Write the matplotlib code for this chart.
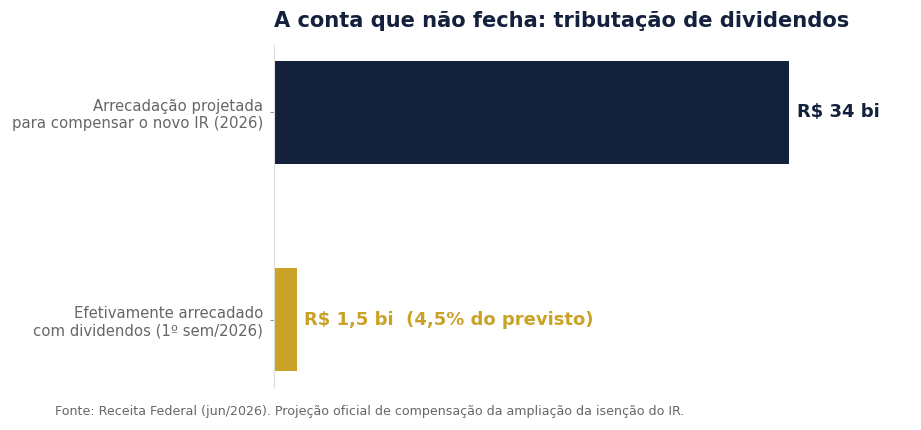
import matplotlib.pyplot as plt

plt.rcParams['font.family'] = ['DejaVu Sans']

categories = ['Arrecadação projetada\npara compensar o novo IR (2026)',
              'Efetivamente arrecadado\ncom dividendos (1º sem/2026)']
values = [34, 1.5]
labels = ['R$ 34 bi', 'R$ 1,5 bi  (4,5% do previsto)']
colors = ['#14213d', '#c9a227']

fig = plt.figure(figsize=(9.21, 4.3), dpi=100)
ax = fig.add_axes([0.2975, 0.1, 0.62, 0.7953])

ax.barh(categories, values, height=0.5, color=colors)
ax.invert_yaxis()
ax.set_xlim(0, 37.7)

for i, (v, lab) in enumerate(zip(values, labels)):
    ax.text(v + 0.5, i, lab, va='center', ha='left', fontsize=13,
            fontweight='bold', color=colors[i])

ax.set_title('A conta que não fecha: tributação de dividendos', loc='left',
             fontsize=15.1, fontweight='bold', color='#14213d', pad=13)

for s in ['top', 'right', 'bottom']:
    ax.spines[s].set_visible(False)
ax.spines['left'].set_color('#dddddd')
ax.set_xticks([])
ax.tick_params(axis='y', labelsize=10.7, labelcolor='#666666', color='#999999',
               length=3, pad=5)

fig.text(0.06, 0.035, 'Fonte: Receita Federal (jun/2026). Projeção oficial de compensação da ampliação da isenção do IR.',
         fontsize=9.1, color='#666666')

plt.savefig('out.png', dpi=100)
